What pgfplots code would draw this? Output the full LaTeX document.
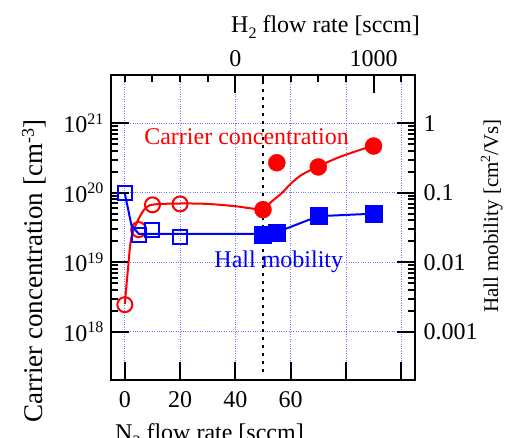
\documentclass[border=0pt]{standalone}
\usepackage{pgfplots}
\pgfplotsset{compat=1.18}
\usepackage{fontspec}
\setmainfont{Liberation Serif}
\newcommand\sups[1]{\raisebox{8.5pt}{\fontsize{16}{16}\selectfont #1}}
\begin{document}
\begin{tikzpicture}[font=\fontsize{24}{28}\selectfont]
\useasboundingbox (-111pt,-58pt) rectangle (400pt,380pt);
\clip (-111pt,-58pt) rectangle (400pt,380pt);
\pgfplotsset{
  every axis/.append style={
    scale only axis, width=304pt, height=305pt,
    at={(0pt,0pt)}, anchor=south west,
    xmin=-5, xmax=105,
    ymode=log,
    axis line style={line width=2pt},
    every tick/.style={black, line width=2pt},
    tick align=inside,
    major tick length=18pt,
    minor tick length=7pt,
    font=\fontsize{24}{28}\selectfont,
    clip=false,
  }
}
\begin{axis}[
  ymin=2.02e17, ymax=4.95e21,
  xtick={0,20,40,60,80,100},
  xticklabels={0,20,40,60,{},{}},
  xtick pos=left, ytick pos=left,
  ytick={1e18,1e19,1e20,1e21},
  yticklabels={10\sups{18},10\sups{19},10\sups{20},10\sups{21}},
  minor ytick={},
  xticklabel style={yshift=-8pt},
  yticklabel style={xshift=-4pt},
  grid=major,
  major grid style={draw=blue!55, dotted, line width=0.7pt},
]
\addplot[black, line width=2.2pt, dash pattern=on 3pt off 5pt] coordinates {(50,2.6e17) (50,4.5e21)};
% fit curve for carrier concentration
\addplot[red, line width=2pt, smooth, tension=0.45] coordinates {
 (0,2.5e18) (1.2,8.5e18) (2.4,2.3e19) (5.4,4.5e19) (9,6.6e19) (20,7.0e19) (30,6.9e19) (40,6.4e19) (45,6.0e19) (50,5.8e19) (53,7.4e19) (56.7,9.8e19) (60.3,1.38e20) (63.9,1.8e20) (70,2.4e20) (78,3.3e20) (90,4.8e20)};
\addplot[red, only marks, mark=o, mark size=7.5pt, line width=2pt] coordinates {
 (0,2.45e18) (5,2.95e19) (10,6.7e19) (20,6.9e19)};
\addplot[red, only marks, mark=*, mark size=8.5pt, mark options={fill=red}] coordinates {
 (50,5.7e19) (55,2.7e20) (70,2.35e20) (90,4.7e20)};
\node[red] at (rel axis cs:0.446,0.798) {Carrier concentration};
\end{axis}
\begin{axis}[
  ymin=2.02e-4, ymax=4.95,
  xtick={40,90}, xticklabels={0,1000},
  minor xtick={0,10,...,100},
  xtick pos=right, xticklabel pos=right,
  ytick pos=right, yticklabel pos=right,
  ytick={0.001,0.01,0.1,1},
  yticklabels={0.001,0.01,0.1,1},
  minor ytick={},
  xticklabel style={yshift=5pt},
  yticklabel style={xshift=5pt},
]
\addplot[blue, line width=2pt] coordinates {
 (0,0.098) (2.4,0.034) (5,0.0257) (50,0.0257) (55,0.027) (70,0.046) (90,0.050)};
\addplot[blue, only marks, mark=square, mark size=7pt, line width=2pt] coordinates {
 (0,0.098) (5,0.025) (10,0.0295) (20,0.023)};
\addplot[blue, only marks, mark=square*, mark size=8.5pt, mark options={fill=blue}] coordinates {
 (50,0.0245) (55,0.0264) (70,0.047) (90,0.050)};
\node[blue] at (rel axis cs:0.552,0.388) {Hall mobility};
\end{axis}
\node[anchor=base west, inner sep=0pt] at (120pt,347pt) {H\raisebox{-6pt}{\fontsize{16}{16}\selectfont 2} flow rate [sccm]};
\node[anchor=base west, inner sep=0pt] at (4pt,-61pt) {N\raisebox{-6pt}{\fontsize{16}{16}\selectfont 2} flow rate [sccm]};
\node[anchor=base west, inner sep=0pt, rotate=90, font=\fontsize{27}{30}\selectfont] at (-68pt,-43pt) {Carrier concentration [cm\raisebox{9pt}{\fontsize{18}{18}\selectfont -3}]};
\node[anchor=base west, inner sep=0pt, rotate=90, font=\fontsize{21}{25}\selectfont] at (387pt,67pt) {Hall mobility [cm\raisebox{8pt}{\fontsize{14}{14}\selectfont 2}/Vs]};
\end{tikzpicture}
\end{document}
